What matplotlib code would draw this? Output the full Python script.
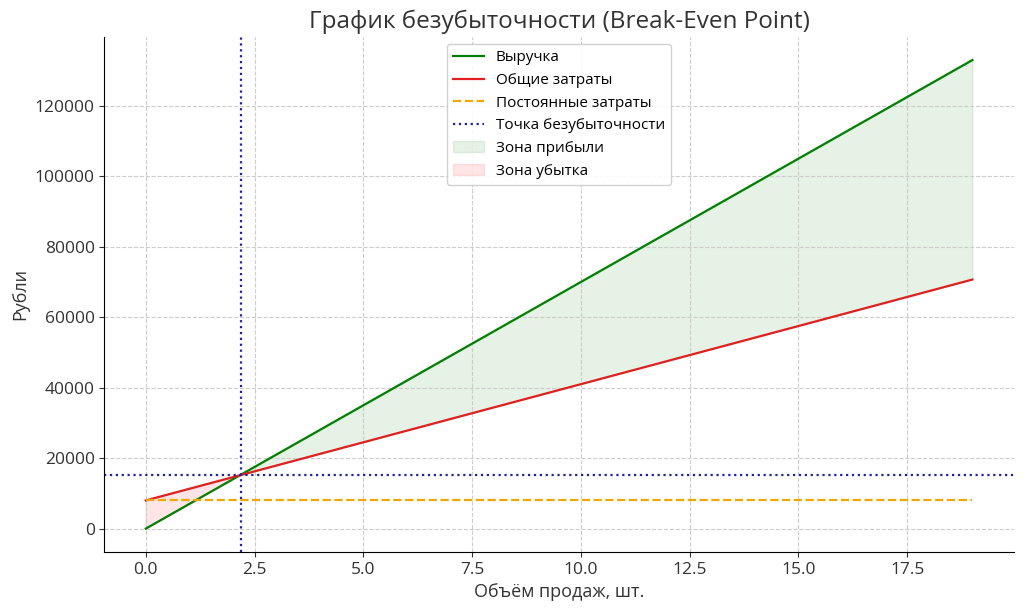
import matplotlib
matplotlib.use("Agg")
import matplotlib.pyplot as plt
import numpy as np

plt.rcParams['font.family'] = ['Open Sans', 'DejaVu Sans']

units = [0, 1, 2, 3, 4, 5, 6, 7, 8, 9, 10, 11, 12, 13, 14, 15, 16, 17, 18, 19]
revenue = [0, 7000, 14000, 21000, 28000, 35000, 42000, 49000, 56000, 63000, 70000,
           77000, 84000, 91000, 98000, 105000, 112000, 119000, 126000, 133000]
total_costs = [8000, 11300, 14600, 17900, 21200, 24500, 27800, 31100, 34400, 37700, 41000,
               44300, 47600, 50900, 54200, 57500, 60800, 64100, 67400, 70700]
fixed_costs = [8000] * 20
bep_units = 2.18
bep_rub = 15200

x = np.array(units)
r = np.array(revenue)
c = np.array(total_costs)
xf = np.linspace(0, 19, 400)
rf = np.interp(xf, x, r)
cf = np.interp(xf, x, c)

fig, ax = plt.subplots(figsize=(10.24, 6.10), dpi=100)
ax.plot(x, r, color='green', lw=1.6, label='Выручка')
ax.plot(x, c, color='#e02020', lw=1.6, label='Общие затраты')
ax.plot(x, fixed_costs, color='#f0a800', lw=1.6, ls='--', label='Постоянные затраты')
ax.axvline(bep_units, color='#2020b0', lw=1.6, ls=':', label='Точка безубыточности')
ax.axhline(bep_rub, color='#2020b0', lw=1.6, ls=':')
ax.fill_between(xf, rf, cf, where=rf >= cf, color='green', alpha=0.1, label='Зона прибыли')
ax.fill_between(xf, rf, cf, where=rf < cf, color='red', alpha=0.1, label='Зона убытка')

ax.set_title('График безубыточности (Break-Even Point)', fontsize=17.5, color='#333333')
ax.set_xlabel('Объём продаж, шт.', fontsize=13, color='#333333')
ax.set_ylabel('Рубли', fontsize=13, color='#333333')
ax.grid(True, ls='--', color='#cccccc', lw=0.8)
ax.spines['top'].set_visible(False)
ax.spines['right'].set_visible(False)
ax.set_xlim(-0.95, 19.95)
ax.set_ylim(-6650, 139650)
ax.tick_params(labelsize=12.5, colors='#333333')
ax.legend(loc='upper center', fontsize=11, framealpha=0.9)
fig.subplots_adjust(left=0.102, right=0.99, top=0.94, bottom=0.095)
fig.savefig('out.png')
